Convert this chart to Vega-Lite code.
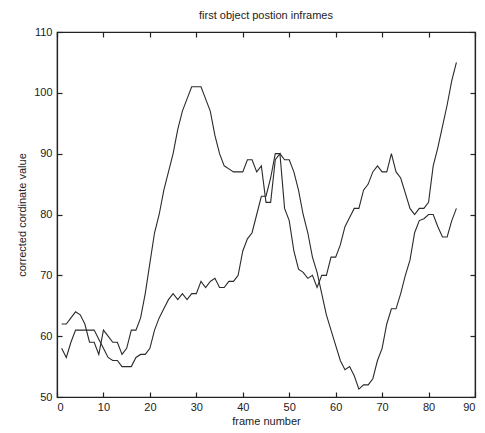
{
  "$schema": "https://vega.github.io/schema/vega-lite/v6.json",
  "width": 418,
  "height": 365,
  "autosize": "none",
  "padding": {"left": 57, "top": 32, "right": 10, "bottom": 36},
  "background": "white",
  "title": {"text": "first object postion inframes", "font": "Liberation Sans", "fontSize": 11, "fontWeight": "normal", "color": "#222", "offset": 5},
  "config": {
    "view": {"stroke": "#222", "strokeWidth": 1.2},
    "axis": {"domainColor": "#222", "tickColor": "#222", "labelColor": "#222", "titleColor": "#222", "labelFont": "Liberation Sans", "titleFont": "Liberation Sans", "labelFontSize": 11, "titleFontSize": 11, "titleFontWeight": "normal", "grid": false, "tickSize": -5, "tickWidth": 1.2, "labelPadding": 10, "domainWidth": 1.2}
  },
  "data": {"values": [
    {"frame": 1, "a": 62, "b": 58},
    {"frame": 2, "a": 62, "b": 56.5},
    {"frame": 3, "a": 63, "b": 59},
    {"frame": 4, "a": 64, "b": 61},
    {"frame": 5, "a": 63.5, "b": 61},
    {"frame": 6, "a": 62, "b": 61},
    {"frame": 7, "a": 59, "b": 61},
    {"frame": 8, "a": 59, "b": 61},
    {"frame": 9, "a": 57, "b": 59.5},
    {"frame": 10, "a": 61, "b": 58},
    {"frame": 11, "a": 60, "b": 56.5},
    {"frame": 12, "a": 59, "b": 56},
    {"frame": 13, "a": 59, "b": 56},
    {"frame": 14, "a": 57, "b": 55},
    {"frame": 15, "a": 58, "b": 55},
    {"frame": 16, "a": 61, "b": 55},
    {"frame": 17, "a": 61, "b": 56.5},
    {"frame": 18, "a": 63, "b": 57},
    {"frame": 19, "a": 67, "b": 57},
    {"frame": 20, "a": 72, "b": 58},
    {"frame": 21, "a": 77, "b": 61},
    {"frame": 22, "a": 80, "b": 63},
    {"frame": 23, "a": 84, "b": 64.5},
    {"frame": 24, "a": 87, "b": 66},
    {"frame": 25, "a": 90, "b": 67},
    {"frame": 26, "a": 94, "b": 66},
    {"frame": 27, "a": 97, "b": 67},
    {"frame": 28, "a": 99, "b": 66},
    {"frame": 29, "a": 101, "b": 67},
    {"frame": 30, "a": 101, "b": 67},
    {"frame": 31, "a": 101, "b": 69},
    {"frame": 32, "a": 99, "b": 68},
    {"frame": 33, "a": 97, "b": 69},
    {"frame": 34, "a": 93, "b": 69.5},
    {"frame": 35, "a": 90, "b": 68},
    {"frame": 36, "a": 88, "b": 68},
    {"frame": 37, "a": 87.5, "b": 69},
    {"frame": 38, "a": 87, "b": 69},
    {"frame": 39, "a": 87, "b": 70},
    {"frame": 40, "a": 87, "b": 74},
    {"frame": 41, "a": 89, "b": 76},
    {"frame": 42, "a": 89, "b": 77},
    {"frame": 43, "a": 87, "b": 80},
    {"frame": 44, "a": 88, "b": 83},
    {"frame": 45, "a": 82, "b": 83},
    {"frame": 46, "a": 82, "b": 86},
    {"frame": 47, "a": 89, "b": 90},
    {"frame": 48, "a": 90, "b": 90},
    {"frame": 49, "a": 81, "b": 89},
    {"frame": 50, "a": 79, "b": 89},
    {"frame": 51, "a": 74, "b": 87},
    {"frame": 52, "a": 71, "b": 84},
    {"frame": 53, "a": 70.5, "b": 80},
    {"frame": 54, "a": 69.5, "b": 77},
    {"frame": 55, "a": 70, "b": 73},
    {"frame": 56, "a": 68, "b": 70.5},
    {"frame": 57, "a": 70, "b": 67},
    {"frame": 58, "a": 70, "b": 63.5},
    {"frame": 59, "a": 73, "b": 61},
    {"frame": 60, "a": 73, "b": 58.5},
    {"frame": 61, "a": 75, "b": 56},
    {"frame": 62, "a": 78, "b": 54.5},
    {"frame": 63, "a": 79.5, "b": 55},
    {"frame": 64, "a": 81, "b": 53.5},
    {"frame": 65, "a": 81, "b": 51.3},
    {"frame": 66, "a": 84, "b": 52},
    {"frame": 67, "a": 85, "b": 52},
    {"frame": 68, "a": 87, "b": 53},
    {"frame": 69, "a": 88, "b": 56},
    {"frame": 70, "a": 87, "b": 58},
    {"frame": 71, "a": 87, "b": 62},
    {"frame": 72, "a": 90, "b": 64.5},
    {"frame": 73, "a": 87, "b": 64.5},
    {"frame": 74, "a": 86, "b": 67},
    {"frame": 75, "a": 83.5, "b": 70},
    {"frame": 76, "a": 81, "b": 72.5},
    {"frame": 77, "a": 80, "b": 77},
    {"frame": 78, "a": 81, "b": 79},
    {"frame": 79, "a": 81, "b": 79.3},
    {"frame": 80, "a": 82, "b": 80},
    {"frame": 81, "a": 88, "b": 80},
    {"frame": 82, "a": 91, "b": 78},
    {"frame": 83, "a": 94.5, "b": 76.3},
    {"frame": 84, "a": 98, "b": 76.3},
    {"frame": 85, "a": 102, "b": 79},
    {"frame": 86, "a": 105, "b": 81}
  ]},
  "transform": [{"fold": ["a", "b"], "as": ["series", "value"]}],
  "layer": [
    {
      "mark": {"type": "line", "color": "#2a2a2a", "strokeWidth": 1.1},
      "encoding": {
        "x": {"field": "frame", "type": "quantitative", "scale": {"domain": [0, 90], "nice": false}, "axis": {"title": "frame number", "values": [0,10,20,30,40,50,60,70,80,90], "labelPadding": 9, "titlePadding": 3}},
        "y": {"field": "value", "type": "quantitative", "scale": {"domain": [50, 110], "nice": false, "zero": false}, "axis": {"title": "corrected cordinate value", "values": [50,60,70,80,90,100,110], "titlePadding": 6}},
        "detail": {"field": "series"}
      }
    },
    {
      "mark": {"type": "line", "opacity": 0},
      "encoding": {
        "x": {"field": "frame", "type": "quantitative", "scale": {"domain": [0, 90], "nice": false}, "axis": {"orient": "top", "title": null, "labels": false, "values": [0,10,20,30,40,50,60,70,80,90]}},
        "y": {"field": "value", "type": "quantitative", "scale": {"domain": [50, 110], "nice": false, "zero": false}, "axis": {"orient": "right", "title": null, "labels": false, "values": [50,60,70,80,90,100,110]}},
        "detail": {"field": "series"}
      }
    }
  ],
  "resolve": {"axis": {"x": "independent", "y": "independent"}}
}
